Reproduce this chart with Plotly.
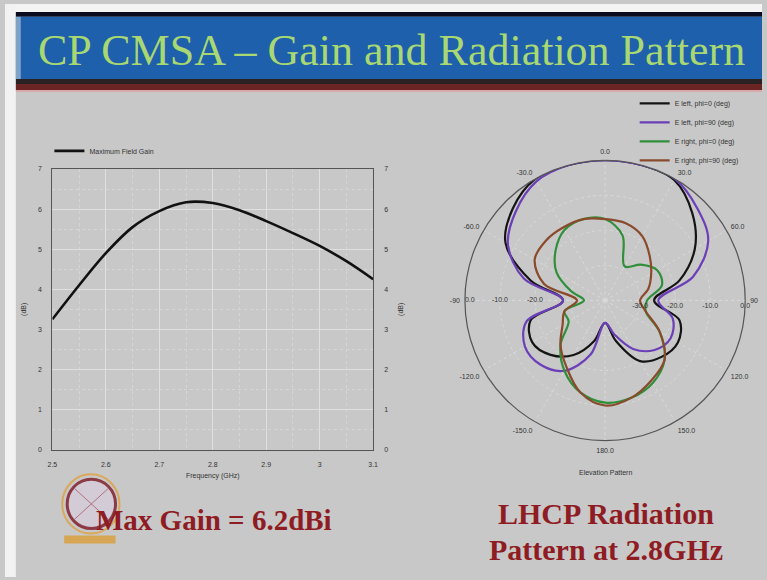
import plotly.graph_objects as go

W, H = 767, 580

# ---------------- data: left chart (gain vs frequency) ----------------
freq_ghz = [2.5, 2.55, 2.6, 2.65, 2.7, 2.75, 2.8, 2.85, 2.9, 2.95, 3.0, 3.05, 3.1]
max_gain_db = [3.25, 4.1, 4.9, 5.55, 5.95, 6.17, 6.15, 5.97, 5.7, 5.4, 5.08, 4.7, 4.25]
x_ticks = [2.5, 2.6, 2.7, 2.8, 2.9, 3.0, 3.1]
x_ticktext = ["2.5", "2.6", "2.7", "2.8", "2.9", "3", "3.1"]
y_ticks = [0, 1, 2, 3, 4, 5, 6, 7]

# ---------------- data: right chart (elevation pattern, dB) ----------------
theta_deg = [-180, -165, -150, -135, -120, -105, -90, -75, -60, -45, -30, -15,
             0, 15, 30, 45, 60, 75, 90, 105, 120, 135, 150, 165, 180]
e_left_phi0 = [-33.6, -28.0, -22.0, -18.0, -16.0, -18.0, -28.0, -18.0, -7.2, -2.8, 0.0, 0.0,
               0.0, 0.0, -0.4, -4.8, -10.4, -18.0, -26.0, -18.0, -16.0, -17.2, -20.0, -28.0, -33.6]
e_left_phi90 = [-33.6, -24.0, -16.8, -14.0, -13.6, -16.8, -28.0, -16.0, -8.0, -4.0, -0.8, 0.0,
                0.0, 0.0, 0.0, -2.8, -6.0, -14.0, -24.8, -20.0, -18.4, -20.0, -24.0, -30.0, -33.6]
e_right_phi0 = [-10.8, -12.8, -16.8, -22.0, -28.0, -28.0, -34.0, -30.0, -24.0, -20.0, -16.8, -16.0,
                -16.8, -20.8, -28.8, -25.6, -22.8, -23.2, -28.0, -28.0, -22.0, -16.0, -12.8, -11.2, -10.8]
e_right_phi90 = [-10.0, -12.8, -18.0, -22.0, -26.0, -28.0, -32.0, -22.0, -16.8, -16.0, -16.0, -16.0,
                 -16.8, -17.2, -18.8, -22.0, -24.8, -27.2, -30.0, -28.0, -22.0, -16.0, -13.6, -11.2, -10.0]
series_names = ["E left, phi=0 (deg)", "E left, phi=90 (deg)",
                "E right, phi=0 (deg)", "E right, phi=90 (deg)"]
series_colors = ["#141414", "#6b3fb8", "#2f8f3a", "#8a4a2c"]

ang_ticks = [0, 30, 60, 90, 120, 150, 180, 210, 240, 270, 300, 330]
ang_ticktext = ["0.0", "30.0", "60.0", "90", "120.0", "150.0", "180.0",
                "-150.0", "-120.0", "-90", "-60.0", "-30.0"]
rad_ticks = [-30, -20, -10, 0]
rad_ticktext = ["-30.0", "-20.0", "-10.0", "0.0"]
left_rad_ticks = [-20, -10, 0]
left_rad_ticktext = ["-20.0", "-10.0", "0.0"]

# ---------------- helpers ----------------
def X(px):
    return px / W

def Y(py):
    return 1 - py / H

BG = "#c8c8c8"
fig = go.Figure()

# left gain curve
fig.add_trace(go.Scatter(
    x=freq_ghz, y=max_gain_db, mode="lines", line=dict(color="#111111", width=2.6, shape="spline"),
    name="Maximum Field Gain", legend="legend2", xaxis="x", yaxis="y"))
# invisible trace to activate right axis
fig.add_trace(go.Scatter(x=freq_ghz, y=max_gain_db, mode="lines", line=dict(width=0),
                         showlegend=False, hoverinfo="skip", xaxis="x", yaxis="y2", opacity=0))

# polar curves
for vals, nm, col in zip([e_left_phi0, e_left_phi90, e_right_phi0, e_right_phi90],
                         series_names, series_colors):
    fig.add_trace(go.Scatterpolar(
        r=vals, theta=theta_deg, mode="lines", name=nm,
        line=dict(color=col, width=2.2, shape="spline"), subplot="polar"))

# mirrored radial labels on the left side
fig.add_trace(go.Scatterpolar(
    r=left_rad_ticks, theta=[-90] * len(left_rad_ticks), mode="text", text=left_rad_ticktext,
    textfont=dict(family="Liberation Sans", size=7, color="#333333"),
    textposition=["middle center", "middle center", "middle right"],
    showlegend=False, hoverinfo="skip", subplot="polar"))

# ---------------- decorations ----------------
shapes = []
shapes.append(dict(type="rect", xref="paper", yref="paper", x0=X(0), x1=X(W), y0=Y(0), y1=Y(9),
                   fillcolor="#f4f4f4", line=dict(width=0), layer="below"))
shapes.append(dict(type="rect", xref="paper", yref="paper", x0=X(0), x1=X(11), y0=Y(0), y1=Y(H),
                   fillcolor="#f2f2f2", line=dict(width=0), layer="below"))
shapes.append(dict(type="rect", xref="paper", yref="paper", x0=X(11), x1=X(W), y0=Y(8), y1=Y(13),
                   fillcolor="#0b0b1e", line=dict(width=0), layer="below"))
shapes.append(dict(type="rect", xref="paper", yref="paper", x0=X(11), x1=X(W), y0=Y(13), y1=Y(76),
                   fillcolor="#1e60ac", line=dict(width=0), layer="below"))
shapes.append(dict(type="rect", xref="paper", yref="paper", x0=X(11), x1=X(16), y0=Y(13), y1=Y(76),
                   fillcolor="#7fa3c6", line=dict(width=0), layer="below"))
shapes.append(dict(type="rect", xref="paper", yref="paper", x0=X(11), x1=X(W), y0=Y(76), y1=Y(81),
                   fillcolor="#2a2222", line=dict(width=0), layer="below"))
shapes.append(dict(type="rect", xref="paper", yref="paper", x0=X(11), x1=X(W), y0=Y(81), y1=Y(87),
                   fillcolor="#6a2424", line=dict(width=0), layer="below"))
shapes.append(dict(type="rect", xref="paper", yref="paper", x0=X(11), x1=X(W), y0=Y(87), y1=Y(89),
                   fillcolor="#d9a9aa", line=dict(width=0), layer="below"))
# logo (simple emblem)
shapes.append(dict(type="circle", xref="paper", yref="paper", x0=X(58), x1=X(116), y0=Y(476), y1=Y(536),
                   line=dict(color="#d9a85a", width=2)))
shapes.append(dict(type="circle", xref="paper", yref="paper", x0=X(63), x1=X(112), y0=Y(481), y1=Y(531),
                   line=dict(color="#8c3a46", width=3), fillcolor="rgba(215,205,220,0.7)"))
shapes.append(dict(type="line", xref="paper", yref="paper", x0=X(70), x1=X(105), y0=Y(490), y1=Y(522),
                   line=dict(color="#b07080", width=1)))
shapes.append(dict(type="line", xref="paper", yref="paper", x0=X(70), x1=X(105), y0=Y(522), y1=Y(490),
                   line=dict(color="#b07080", width=1)))
shapes.append(dict(type="rect", xref="paper", yref="paper", x0=X(60), x1=X(112), y0=Y(538), y1=Y(546),
                   fillcolor="#d6a654", line=dict(width=0)))

annotations = [
    dict(text="CP CMSA \u2013 Gain and Radiation Pattern", x=X(392), y=Y(47), xref="paper", yref="paper",
         showarrow=False, xanchor="center", yanchor="middle",
         font=dict(family="Liberation Serif", size=44, color="#a9d873")),
    dict(text="<b>Max Gain = 6.2dBi</b>", x=X(212), y=Y(522), xref="paper", yref="paper",
         showarrow=False, xanchor="center", yanchor="middle",
         font=dict(family="Liberation Serif", size=29, color="#8e1c22")),
    dict(text="<b>LHCP Radiation</b>", x=X(609), y=Y(516), xref="paper", yref="paper",
         showarrow=False, xanchor="center", yanchor="middle",
         font=dict(family="Liberation Serif", size=30, color="#8e1c22")),
    dict(text="<b>Pattern at 2.8GHz</b>", x=X(609), y=Y(552), xref="paper", yref="paper",
         showarrow=False, xanchor="center", yanchor="middle",
         font=dict(family="Liberation Serif", size=30, color="#8e1c22")),
    dict(text="Elevation Pattern", x=X(608), y=Y(474), xref="paper", yref="paper",
         showarrow=False, xanchor="center", yanchor="middle",
         font=dict(family="Liberation Sans", size=7, color="#333333")),
]

tickfont = dict(family="Liberation Sans", size=7, color="#333333")

fig.update_layout(
    width=W, height=H, margin=dict(l=0, r=0, t=0, b=0),
    paper_bgcolor=BG, plot_bgcolor=BG,
    shapes=shapes, annotations=annotations,
    xaxis=dict(domain=[X(48), X(373)], range=[2.5, 3.1], tickvals=x_ticks, ticktext=x_ticktext,
               tickfont=tickfont, showgrid=True, gridcolor="#e0e0e0", gridwidth=1,
               minor=dict(dtick=0.05, showgrid=True, gridcolor="#d6d6d6", griddash="dot"),
               showline=True, linecolor="#555555", mirror=True, zeroline=False, ticks="",
               ticklabelstandoff=8,
               title=dict(text="Frequency (GHz)", font=tickfont, standoff=6), anchor="y"),
    yaxis=dict(domain=[Y(451), Y(167)], range=[0, 7], tickvals=y_ticks, tickfont=tickfont,
               showgrid=True, gridcolor="#e0e0e0",
               minor=dict(dtick=0.5, showgrid=True, gridcolor="#d6d6d6", griddash="dot"),
               showline=True, linecolor="#555555", mirror=True, zeroline=False, ticks="",
               ticklabelstandoff=8,
               title=dict(text="(dB)", font=tickfont, standoff=10), anchor="x"),
    yaxis2=dict(range=[0, 7], tickvals=y_ticks, tickfont=tickfont, overlaying="y", side="right",
                showgrid=False, zeroline=False, ticks="", anchor="x", ticklabelstandoff=10,
                title=dict(text="(dB)", font=tickfont, standoff=10)),
    polar=dict(
        domain=dict(x=[X(466), X(750)], y=[Y(445), Y(155)]),
        bgcolor=BG,
        angularaxis=dict(rotation=90, direction="clockwise", tickvals=ang_ticks, ticktext=ang_ticktext,
                         tickfont=tickfont, showline=True, linecolor="#555555", linewidth=1.2,
                         gridcolor="#dadada", griddash="dot", ticks="outside", ticklen=3,
                         tickcolor=BG),
        radialaxis=dict(range=[-40, 0], tickvals=rad_ticks, ticktext=rad_ticktext, angle=0,
                        tickangle=0, tickfont=tickfont, showline=False, gridcolor="#dadada",
                        griddash="dot", ticks=""),
    ),
    legend=dict(x=X(638), y=Y(86), xanchor="left", yanchor="top", bgcolor="rgba(0,0,0,0)",
                font=dict(family="Liberation Sans", size=7, color="#333333"), tracegroupgap=0,
                itemwidth=30),
    legend2=dict(x=X(45), y=Y(134), xanchor="left", yanchor="top", bgcolor="rgba(0,0,0,0)",
                 font=dict(family="Liberation Sans", size=7, color="#333333"), itemwidth=30),
)

fig.write_html("out.html")
